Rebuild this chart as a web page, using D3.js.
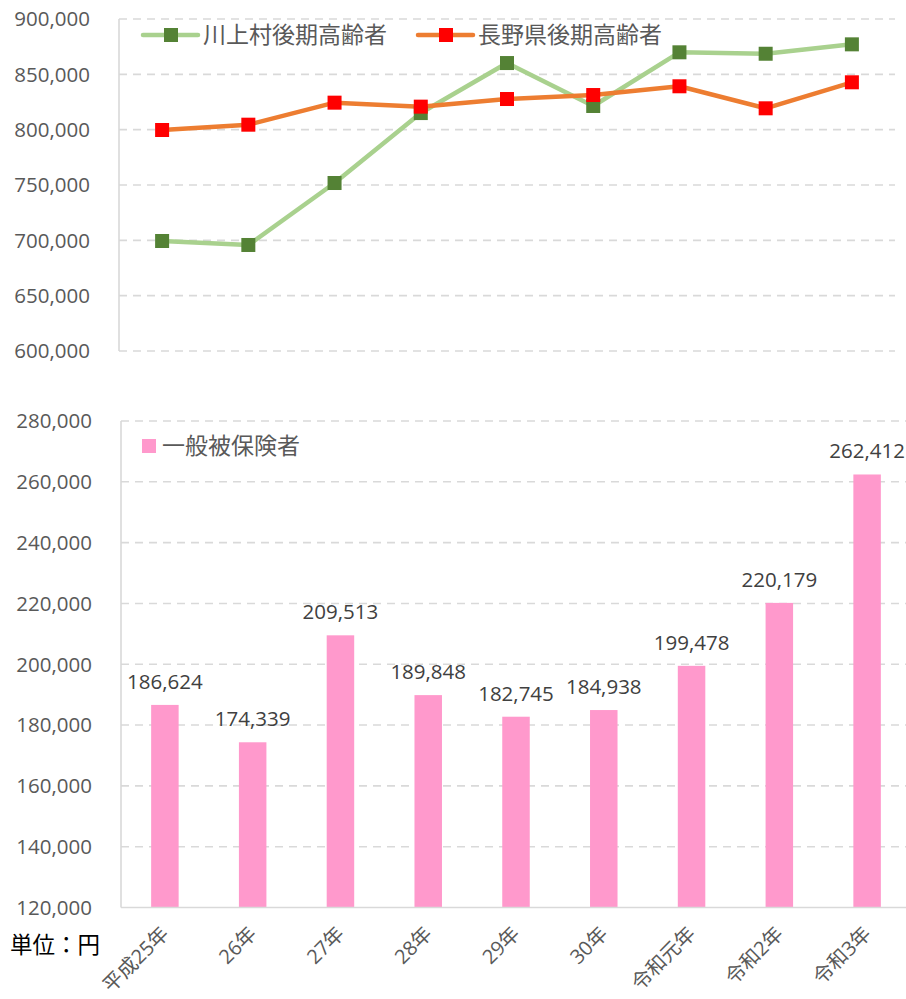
<!DOCTYPE html>
<html><head><meta charset="utf-8">
<script src="https://cdn.jsdelivr.net/npm/d3@7/dist/d3.min.js"></script>
<style>
html,body{margin:0;padding:0;background:#fff;}
svg{display:block;font-family:"Open Sans","Noto Sans CJK JP",sans-serif;}
</style></head>
<body><svg id="c" width="906" height="999"></svg>
<script>
const categories = ["平成25年","26年","27年","28年","29年","30年","令和元年","令和2年","令和3年"];
const kawakamiValues = [699400, 695800, 751800, 815000, 860200, 821400, 869900, 868600, 877100];
const naganoValues = [799700, 804500, 824400, 820800, 827700, 831300, 839200, 819300, 842800];
const generalValues = [186624, 174339, 209513, 189848, 182745, 184938, 199478, 220179, 262412];
const topTicks = [600000, 650000, 700000, 750000, 800000, 850000, 900000];
const bottomTicks = [120000, 140000, 160000, 180000, 200000, 220000, 240000, 260000, 280000];
const seriesNames = ["川上村後期高齢者", "長野県後期高齢者", "一般被保険者"];
const unitLabel = "単位：円";

const svg = d3.select("#c");
const fmt = d3.format(",");
const grid = "#D9D9D9", tickCol = "#595959";

// ---------- top line chart ----------
const xT = d3.scaleBand().domain(categories).range([119, 895]).padding(0);
const yT = d3.scaleLinear().domain([600000, 900000]).range([351, 19]);
const gT = svg.append("g");
gT.selectAll("line.grid").data(topTicks).join("line")
  .attr("x1", 119).attr("x2", 895).attr("y1", d => yT(d)).attr("y2", d => yT(d))
  .attr("stroke", grid).attr("stroke-width", 1.6).attr("stroke-dasharray", "8,6");
gT.append("line").attr("x1", 119).attr("x2", 119).attr("y1", yT(900000)).attr("y2", yT(600000))
  .attr("stroke", grid).attr("stroke-width", 1.6);
gT.selectAll("text.tick").data(topTicks).join("text")
  .attr("x", 90).attr("y", d => yT(d)).attr("dy", "0.36em").attr("text-anchor", "end")
  .attr("fill", tickCol).attr("font-size", 20.5).text(d => fmt(d));

const lineGen = d3.line().x((d, i) => xT(categories[i]) + xT.bandwidth() / 2).y(d => yT(d));
const series = [
  {vals: kawakamiValues, line: "#A9D18E", mark: "#548235"},
  {vals: naganoValues, line: "#ED7D31", mark: "#FF0000"}
];
series.forEach(s => {
  gT.append("path").attr("d", lineGen(s.vals)).attr("fill", "none")
    .attr("stroke", s.line).attr("stroke-width", 4.5).attr("stroke-linejoin", "round");
});
series.forEach(s => {
  gT.selectAll(null).data(s.vals).join("rect")
    .attr("x", (d, i) => xT(categories[i]) + xT.bandwidth() / 2 - 7)
    .attr("y", d => yT(d) - 7).attr("width", 14).attr("height", 14)
    .attr("fill", s.mark);
});
// legend
const legT = [{x: 143, s: series[0], name: seriesNames[0]}, {x: 418, s: series[1], name: seriesNames[1]}];
legT.forEach(l => {
  gT.append("line").attr("x1", l.x).attr("x2", l.x + 55).attr("y1", 35).attr("y2", 35)
    .attr("stroke", l.s.line).attr("stroke-width", 4.5).attr("stroke-linecap", "round");
  gT.append("rect").attr("x", l.x + 28 - 7).attr("y", 28).attr("width", 14).attr("height", 14).attr("fill", l.s.mark);
  gT.append("text").attr("x", l.x + 60).attr("y", 35).attr("dy", "0.36em")
    .attr("fill", tickCol).attr("font-size", 23).text(l.name);
});

// ---------- bottom bar chart ----------
const xB = d3.scaleBand().domain(categories).range([121, 911]).padding(0);
const yB = d3.scaleLinear().domain([120000, 280000]).range([907.5, 421]);
const gB = svg.append("g");
gB.selectAll("line.grid").data(bottomTicks.filter(d => d > 120000)).join("line")
  .attr("x1", 121).attr("x2", 911).attr("y1", d => yB(d)).attr("y2", d => yB(d))
  .attr("stroke", grid).attr("stroke-width", 1.6).attr("stroke-dasharray", "8,6");
gB.append("line").attr("x1", 121).attr("x2", 121).attr("y1", yB(280000)).attr("y2", yB(120000))
  .attr("stroke", grid).attr("stroke-width", 1.6);
gB.selectAll("text.tick").data(bottomTicks).join("text")
  .attr("x", 92).attr("y", d => yB(d)).attr("dy", "0.36em").attr("text-anchor", "end")
  .attr("fill", tickCol).attr("font-size", 20.5).text(d => fmt(d));
const bw = 27.5;
gB.selectAll("rect.bar").data(generalValues).join("rect")
  .attr("x", (d, i) => xB(categories[i]) + xB.bandwidth() / 2 - bw / 2)
  .attr("y", d => yB(d)).attr("width", bw).attr("height", d => yB(120000) - yB(d))
  .attr("fill", "#FF99CC");
gB.append("line").attr("x1", 121).attr("x2", 911).attr("y1", yB(120000)).attr("y2", yB(120000))
  .attr("stroke", grid).attr("stroke-width", 1.6);
gB.selectAll("text.val").data(generalValues).join("text")
  .attr("x", (d, i) => xB(categories[i]) + xB.bandwidth() / 2).attr("y", d => yB(d) - 16)
  .attr("text-anchor", "middle").attr("fill", "#404040").attr("font-size", 20.5).text(d => fmt(d));
gB.selectAll("text.cat").data(categories).join("text")
  .attr("transform", (d) => `translate(${xB(d) + xB.bandwidth() / 2 + 5},${935}) rotate(-45)`)
  .attr("text-anchor", "end").attr("fill", tickCol).attr("font-size", 20).text(d => d);
// legend
gB.append("rect").attr("x", 142).attr("y", 439).attr("width", 14).attr("height", 14).attr("fill", "#FF99CC");
gB.append("text").attr("x", 162).attr("y", 446).attr("dy", "0.36em").attr("fill", tickCol)
  .attr("font-size", 23).text(seriesNames[2]);
// unit
svg.append("text").attr("x", 10).attr("y", 953).attr("fill", "#000").attr("font-size", 22.5).text(unitLabel);
</script></body></html>
